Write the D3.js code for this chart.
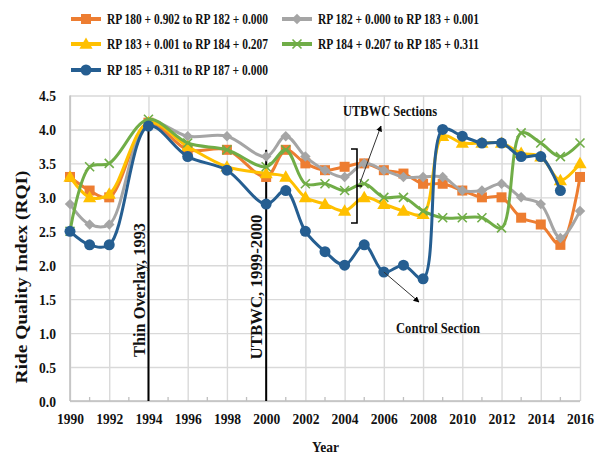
<!DOCTYPE html>
<html><head><meta charset="utf-8">
<script src="https://cdn.jsdelivr.net/npm/d3@7"></script>
<style>body{margin:0;background:#fff}svg{display:block}text{font-family:"Liberation Serif","Times New Roman",serif;font-weight:bold;fill:#111}</style>
</head><body><svg id="c" width="603" height="457"></svg>
<script>
const years = [1990,1991,1992,1994,1996,1998,2000,2001,2002,2003,2004,2005,2006,2007,2008,2009,2010,2011,2012,2013,2014,2015,2016];
const orange = [3.3,3.1,3.0,4.1,3.7,3.7,3.3,3.7,3.5,3.4,3.45,3.5,3.4,3.35,3.2,3.2,3.1,3.0,3.0,2.7,2.6,2.3,3.3];
const gray   = [2.9,2.6,2.6,4.1,3.9,3.9,3.6,3.9,3.6,3.4,3.3,3.5,3.4,3.3,3.3,3.3,3.1,3.1,3.2,3.0,2.9,2.4,2.8];
const yellow = [3.3,3.0,3.05,4.1,3.75,3.45,3.35,3.3,3.0,2.9,2.8,3.0,2.9,2.8,2.75,3.9,3.8,3.8,3.8,3.65,3.6,3.25,3.5];
const green  = [2.5,3.45,3.5,4.15,3.8,3.7,3.45,3.7,3.2,3.2,3.1,3.2,3.0,3.0,2.8,2.7,2.7,2.7,2.55,3.95,3.8,3.6,3.8];
const blue   = [2.5,2.3,2.3,4.05,3.6,3.4,2.9,3.1,2.5,2.2,2.0,2.3,1.9,2.0,1.8,4.0,3.9,3.8,3.8,3.6,3.6,3.1,null];
const seriesNames = ["RP 180 + 0.902 to RP 182 + 0.000","RP 182 + 0.000 to RP 183 + 0.001","RP 183 + 0.001 to RP 184 + 0.207","RP 184 + 0.207 to RP 185 + 0.311","RP 185 + 0.311 to RP 187 + 0.000"];
const xTicks = [1990,1992,1994,1996,1998,2000,2002,2004,2006,2008,2010,2012,2014,2016];
const yTicks = [0,0.5,1,1.5,2,2.5,3,3.5,4,4.5];
const markers = [{year:1994,value:4.1,label:"Thin Overlay, 1993"},{year:2000,value:3.7,label:"UTBWC, 1999-2000"}];

const svg = d3.select("#c");
const X0=70, X1=580, Y0=401, Y1=95.5;
const x = d3.scaleLinear().domain([1990,2016]).range([X0,X1]);
const y = d3.scaleLinear().domain([0,4.5]).range([Y0,Y1]);

// grid
svg.append("g").attr("transform",`translate(0,${Y0})`)
  .call(d3.axisBottom(x).tickValues(xTicks).tickSize(-(Y0-Y1)).tickFormat(""))
  .call(g=>{g.select(".domain").remove();g.selectAll("line").attr("stroke","#d9d9d9").attr("stroke-width",1.4);});
svg.append("g").attr("transform",`translate(${X0},0)`)
  .call(d3.axisLeft(y).tickValues(yTicks).tickSize(-(X1-X0)).tickFormat(""))
  .call(g=>{g.select(".domain").remove();g.selectAll("line").attr("stroke","#d9d9d9").attr("stroke-width",1.4);});
// axis lines
svg.append("line").attr("x1",X0).attr("x2",X1).attr("y1",Y0).attr("y2",Y0).attr("stroke","#bfbfbf").attr("stroke-width",1.5);
svg.append("line").attr("x1",X0).attr("x2",X0).attr("y1",Y0).attr("y2",Y1).attr("stroke","#bfbfbf").attr("stroke-width",1.5);
// minor ticks
const minor = d3.range(1991,2016,2);
svg.append("g").selectAll("line").data(minor).join("line")
  .attr("x1",d=>x(d)).attr("x2",d=>x(d)).attr("y1",Y0).attr("y2",Y0-4).attr("stroke","#bfbfbf").attr("stroke-width",1.3);

// tick labels
svg.append("g").attr("transform",`translate(0,${Y0})`)
  .call(d3.axisBottom(x).tickValues(xTicks).tickSize(0).tickPadding(0).tickFormat(d3.format("d")))
  .call(g=>{g.select(".domain").remove();g.selectAll("text").attr("dy",null).attr("y",23).attr("font-size",15).attr("font-family","Liberation Serif").attr("font-weight","bold").attr("fill","#111").attr("textLength",27).attr("lengthAdjust","spacingAndGlyphs");});
svg.append("g").attr("transform",`translate(56,0)`)
  .call(d3.axisLeft(y).tickValues(yTicks).tickSize(0).tickPadding(0).tickFormat(d3.format(".1f")))
  .call(g=>{g.select(".domain").remove();g.selectAll("text").attr("dy","0.35em").attr("x",0).attr("font-size",15).attr("font-family","Liberation Serif").attr("font-weight","bold").attr("fill","#111").attr("textLength",17).attr("lengthAdjust","spacingAndGlyphs");});

// vertical event lines
markers.forEach(m=>{
  svg.append("line").attr("x1",x(m.year)).attr("x2",x(m.year)).attr("y1",y(m.value)).attr("y2",Y0).attr("stroke","#000").attr("stroke-width",2);
});

const colors = ["#ED7D31","#A5A5A5","#FFC000","#70AD47","#255E91"];
const data = [orange,gray,yellow,green,blue];
const kinds = ["square","diamond","triangle","x","circle"];

function drawMarker(g,kind,cx,cy,color){
  if(kind==="square") g.append("rect").attr("x",cx-5).attr("y",cy-5).attr("width",10).attr("height",10).attr("fill",color);
  else if(kind==="diamond") g.append("path").attr("d",d3.symbol(d3.symbolSquare,55)()).attr("transform",`translate(${cx},${cy}) rotate(45)`).attr("fill",color);
  else if(kind==="triangle") g.append("path").attr("d",d3.symbol(d3.symbolTriangle,75)()).attr("transform",`translate(${cx},${cy+1})`).attr("fill",color);
  else if(kind==="x") g.append("path").attr("d","M-4.5,-4.5L4.5,4.5M-4.5,4.5L4.5,-4.5").attr("transform",`translate(${cx},${cy})`).attr("stroke",color).attr("stroke-width",1.6).attr("fill","none");
  else g.append("circle").attr("cx",cx).attr("cy",cy).attr("r",5.5).attr("fill",color);
}

const line = d3.line().defined(d=>d[1]!=null).x(d=>x(d[0])).y(d=>y(d[1])).curve(d3.curveCatmullRom);
data.forEach((vals,i)=>{
  const pts = years.map((yr,j)=>[yr,vals[j]]);
  const g = svg.append("g");
  g.append("path").attr("d",line(pts)).attr("fill","none").attr("stroke",colors[i]).attr("stroke-width",3).attr("stroke-linejoin","round");
  pts.filter(p=>p[1]!=null).forEach(p=>drawMarker(g,kinds[i],x(p[0]),y(p[1]),colors[i]));
});

// rotated labels
markers.forEach((m,i)=>{
  const cx = i===0?145:262, cy = i===0?290:287, len = i===0?134:145;
  svg.append("text").attr("transform",`translate(${cx},${cy}) rotate(-90)`).attr("text-anchor","middle")
    .attr("font-size",16).attr("textLength",len).attr("lengthAdjust","spacingAndGlyphs").text(m.label);
});

// UTBWC sections bracket & arrow
svg.append("path").attr("d","M351,149H357V223H351M357,186H362").attr("fill","none").attr("stroke","#000").attr("stroke-width",1.6);
svg.append("defs").append("marker").attr("id","ah").attr("viewBox","0 0 10 10").attr("refX",9).attr("refY",5)
  .attr("markerWidth",6).attr("markerHeight",6).attr("orient","auto-start-reverse")
  .append("path").attr("d","M0,0L10,5L0,10z").attr("fill","#000");
svg.append("line").attr("x1",360).attr("y1",183).attr("x2",381).attr("y2",126).attr("stroke","#333").attr("stroke-width",1).attr("marker-end","url(#ah)");
svg.append("text").attr("x",343).attr("y",116).attr("font-size",15).attr("textLength",94).attr("lengthAdjust","spacingAndGlyphs").text("UTBWC Sections");
// control section arrow
svg.append("line").attr("x1",x(2006)).attr("y1",y(1.9)).attr("x2",419).attr("y2",302).attr("stroke","#333").attr("stroke-width",1).attr("marker-end","url(#ah)");
svg.append("text").attr("x",396).attr("y",333).attr("font-size",15).attr("textLength",84).attr("lengthAdjust","spacingAndGlyphs").text("Control Section");

// axis titles
svg.append("text").attr("transform",`translate(27,277) rotate(-90)`).attr("text-anchor","middle").attr("font-size",16).attr("textLength",213).attr("lengthAdjust","spacingAndGlyphs").text("Ride Quality Index (RQI)");
svg.append("text").attr("x",312).attr("y",452).attr("font-size",15).attr("textLength",27).attr("lengthAdjust","spacingAndGlyphs").text("Year");

// legend
const legPos = [[71,19],[282,19],[71,44],[282,44],[71,70]];
seriesNames.forEach((name,i)=>{
  const [lx,ly] = legPos[i];
  const g = svg.append("g");
  g.append("line").attr("x1",lx).attr("x2",lx+30).attr("y1",ly).attr("y2",ly).attr("stroke",colors[i]).attr("stroke-width",4);
  drawMarker(g,kinds[i],lx+15,ly,colors[i]);
  g.append("text").attr("x",lx+36).attr("y",ly+5).attr("font-size",15).attr("textLength",161).attr("lengthAdjust","spacingAndGlyphs").text(name);
});
</script></body></html>
